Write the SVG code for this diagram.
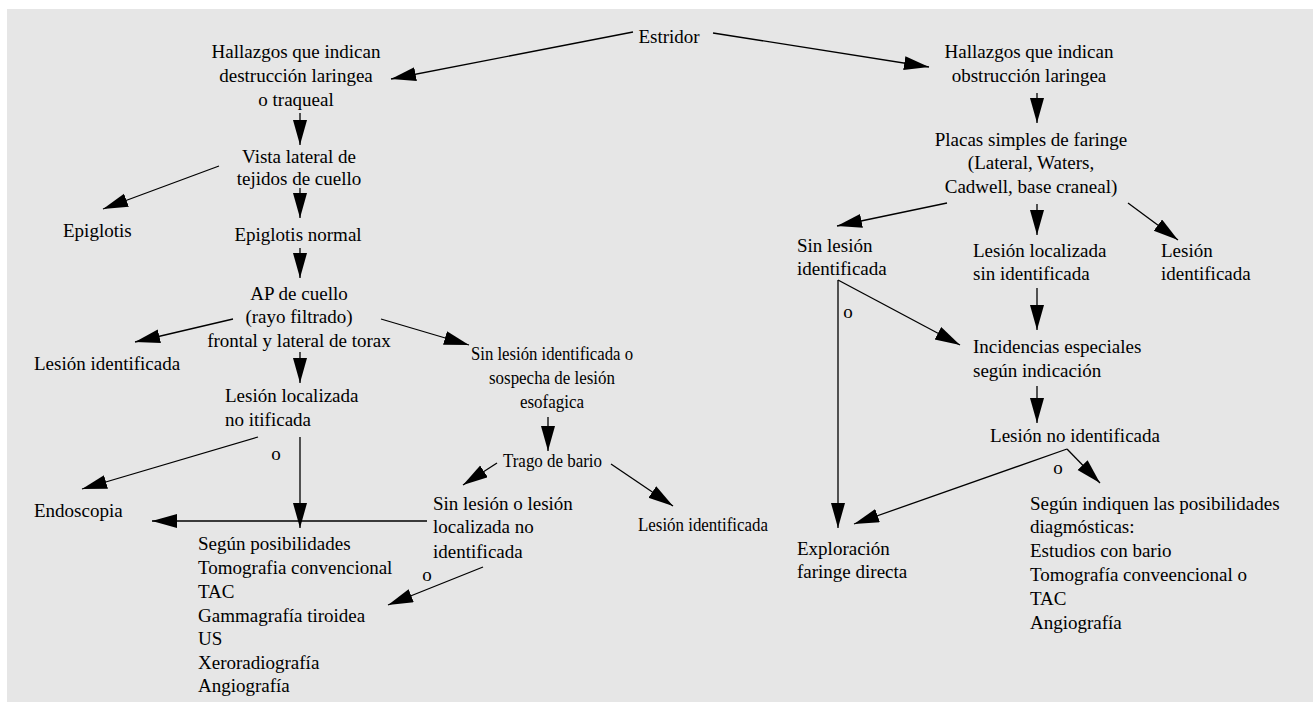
<svg xmlns="http://www.w3.org/2000/svg" width="1313" height="702" viewBox="0 0 1313 702">
<style>
text{font-family:"Liberation Serif","Times New Roman",serif;font-size:19px;fill:#000}
.c{text-anchor:middle}
.e{fill:none;stroke:#000;stroke-width:1.3}
.a{marker-end:url(#ah)}
</style>
<defs>
<marker id="ah" markerUnits="userSpaceOnUse" markerWidth="27" markerHeight="16" refX="25" refY="7" orient="auto">
<path d="M0,0 L25,7 L0,14 z" fill="#000"/>
</marker>
</defs>
<rect x="7" y="9" width="1306" height="693" fill="#e6e6e6"/>
<g id="connectors">
<line class="e a" x1="633" y1="32" x2="391" y2="79"/>
<line class="e a" x1="713" y1="33" x2="929" y2="67"/>
<line class="e a" x1="1037" y1="93" x2="1037" y2="123"/>
<line class="e a" x1="947" y1="203" x2="837" y2="226"/>
<line class="e a" x1="1037" y1="204" x2="1037" y2="235"/>
<line class="e a" x1="1128" y1="203" x2="1178" y2="240"/>
<line class="e a" x1="1037" y1="288" x2="1037" y2="330"/>
<line class="e a" x1="838" y1="280" x2="960" y2="345"/>
<line class="e a" x1="838" y1="280" x2="838" y2="528"/>
<line class="e a" x1="1037" y1="386" x2="1037" y2="423"/>
<line class="e a" x1="1067" y1="449" x2="854" y2="524"/>
<line class="e a" x1="1067" y1="449" x2="1100" y2="483"/>
<line class="e a" x1="300" y1="113" x2="300" y2="145"/>
<line class="e a" x1="219" y1="166" x2="103" y2="209"/>
<line class="e a" x1="300" y1="188" x2="300" y2="218"/>
<line class="e a" x1="300" y1="248" x2="300" y2="278"/>
<line class="e a" x1="233" y1="319" x2="135" y2="342"/>
<line class="e a" x1="381" y1="319" x2="469" y2="345"/>
<line class="e a" x1="300" y1="352" x2="300" y2="383"/>
<line class="e a" x1="258" y1="437" x2="82" y2="489"/>
<line class="e a" x1="300" y1="437" x2="300" y2="528"/>
<line class="e a" x1="427" y1="521" x2="152" y2="521"/>
<line class="e a" x1="548" y1="417" x2="548" y2="451"/>
<line class="e a" x1="497" y1="463" x2="463" y2="485"/>
<line class="e a" x1="611" y1="464" x2="673" y2="506"/>
<line class="e a" x1="483" y1="567" x2="388" y2="605"/>
<text x="276" y="460" class="c">o</text>
<text x="848" y="318" class="c">o</text>
<text x="1058" y="474" class="c">o</text>
<text x="427" y="581" class="c">o</text>
</g>
<g id="n-estridor"><text x="669" y="43" class="c">Estridor</text></g>
<g id="n-destruccion"><text class="c" x="296" y="58">Hallazgos que indican</text><text class="c" x="296" y="82">destrucción laringea</text><text class="c" x="296" y="106">o traqueal</text></g>
<g id="n-obstruccion"><text class="c" x="1029" y="58">Hallazgos que indican</text><text class="c" x="1029" y="82">obstrucción laringea</text></g>
<g id="n-placas"><text class="c" x="1031" y="146">Placas simples de faringe</text><text class="c" x="1031" y="169">(Lateral, Waters,</text><text class="c" x="1031" y="193">Cadwell, base craneal)</text></g>
<g id="n-sinlesion-r"><text x="797" y="252">Sin lesión</text><text x="797" y="275">identificada</text></g>
<g id="n-lesionloc-r"><text x="973" y="257">Lesión localizada</text><text x="973" y="280">sin identificada</text></g>
<g id="n-lesionid-r"><text x="1161" y="257">Lesión</text><text x="1161" y="280">identificada</text></g>
<g id="n-incidencias"><text x="973" y="353">Incidencias especiales</text><text x="973" y="377">según indicación</text></g>
<g id="n-lesionnoid"><text class="c" x="1075" y="442">Lesión no identificada</text></g>
<g id="n-exploracion"><text x="797" y="555">Exploración</text><text x="797" y="578">faringe directa</text></g>
<g id="n-segunindiquen"><text x="1030" y="510">Según indiquen las posibilidades</text><text x="1030" y="533">diagmósticas:</text><text x="1030" y="557">Estudios con bario</text><text x="1030" y="581">Tomografía conveencional o</text><text x="1030" y="605">TAC</text><text x="1030" y="629">Angiografía</text></g>
<g id="n-vista"><text class="c" x="299" y="163">Vista lateral de</text><text class="c" x="299" y="185">tejidos de cuello</text></g>
<g id="n-epiglotis"><text x="63" y="237">Epiglotis</text></g>
<g id="n-epinormal"><text class="c" x="298" y="241">Epiglotis normal</text></g>
<g id="n-ap"><text class="c" x="299" y="300">AP de cuello</text><text class="c" x="299" y="323">(rayo filtrado)</text><text class="c" x="299" y="347">frontal y lateral de torax</text></g>
<g id="n-lesionid-l"><text x="34" y="370">Lesión identificada</text></g>
<g id="n-lesionloc-l"><text x="225" y="402">Lesión localizada</text><text x="225" y="426">no itificada</text></g>
<g id="n-endoscopia"><text x="34" y="517">Endoscopia</text></g>
<g id="n-segunpos"><text x="198" y="550">Según posibilidades</text><text x="198" y="574">Tomografia convencional</text><text x="198" y="598">TAC</text><text x="198" y="622">Gammagrafía tiroidea</text><text x="198" y="645">US</text><text x="198" y="669">Xeroradiografía</text><text x="198" y="692">Angiografía</text></g>
<g id="n-sinlesion-esof"><text x="471" y="360" textLength="162" lengthAdjust="spacingAndGlyphs">Sin lesión identificada o</text><text x="489" y="384" textLength="126" lengthAdjust="spacingAndGlyphs">sospecha de lesión</text><text x="520" y="408" textLength="64" lengthAdjust="spacingAndGlyphs">esofagica</text></g>
<g id="n-trago"><text x="503" y="467" textLength="99" lengthAdjust="spacingAndGlyphs">Trago de bario</text></g>
<g id="n-sinlesion-loc"><text x="433" y="510">Sin lesión o lesión</text><text x="433" y="533">localizada no</text><text x="433" y="558">identificada</text></g>
<g id="n-lesionid-m"><text x="638" y="531" textLength="130" lengthAdjust="spacingAndGlyphs">Lesión identificada</text></g>
</svg>
